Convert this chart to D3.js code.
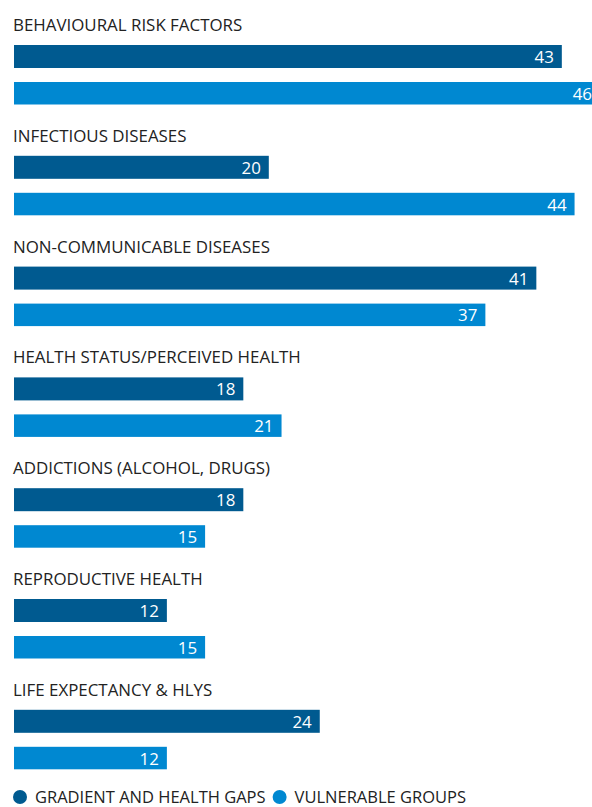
<!DOCTYPE html>
<html><head><meta charset="utf-8">
<script src="https://cdn.jsdelivr.net/npm/d3@7"></script>
<style>html,body{margin:0;padding:0;background:#fff;overflow:hidden}</style>
</head><body><svg id="c" width="592" height="807"></svg>
<script>
const categories = ["BEHAVIOURAL RISK FACTORS","INFECTIOUS DISEASES","NON-COMMUNICABLE DISEASES","HEALTH STATUS/PERCEIVED HEALTH","ADDICTIONS (ALCOHOL, DRUGS)","REPRODUCTIVE HEALTH","LIFE EXPECTANCY & HLYS"];
const gradient = [43,20,41,18,18,12,24];
const vulnerable = [46,44,37,21,15,15,12];
const seriesNames = ["GRADIENT AND HEALTH GAPS","VULNERABLE GROUPS"];
const colors = ["#005a90","#0088d1"];

const svg = d3.select("#c");
const font = "'Open Sans', sans-serif";
const fs = 16.9;
const x = d3.scaleLinear().domain([0,50]).range([14, 14+637]);
const y = d3.scaleBand().domain(categories).range([0, 7*110.8]);
const series = [gradient, vulnerable];
const barOff = [45, 82], barH = [23, 22.5];

const g = svg.selectAll("g.grp").data(categories).enter().append("g")
  .attr("transform", d => `translate(0,${y(d)})`);
g.append("text").attr("x",13).attr("y",31).attr("font-family",font).attr("font-size",fs)
  .attr("fill","#222").text(d=>d);
series.forEach((s,si)=>{
  g.append("rect").attr("x",x(0)).attr("y",barOff[si]).attr("height",barH[si])
    .attr("width",(d,i)=>x(s[i])-x(0)).attr("fill",colors[si]);
  g.append("text").attr("x",(d,i)=>x(s[i])-8).attr("y",barOff[si]+barH[si]/2+6.5)
    .attr("text-anchor","end").attr("font-family",font).attr("font-size",fs).attr("fill","#fff")
    .text((d,i)=>s[i]);
});
// legend
const lg = svg.append("g").attr("transform","translate(0,797)");
let lx = 20;
seriesNames.forEach((n,i)=>{
  lg.append("circle").attr("cx",lx).attr("cy",0).attr("r",7).attr("fill",colors[i]);
  const t = lg.append("text").attr("x",lx+15).attr("y",6).attr("font-family",font).attr("font-size",16.5).attr("fill","#222").text(n);
  lx += 15 + t.node().getComputedTextLength() + 14;
});
</script></body></html>
